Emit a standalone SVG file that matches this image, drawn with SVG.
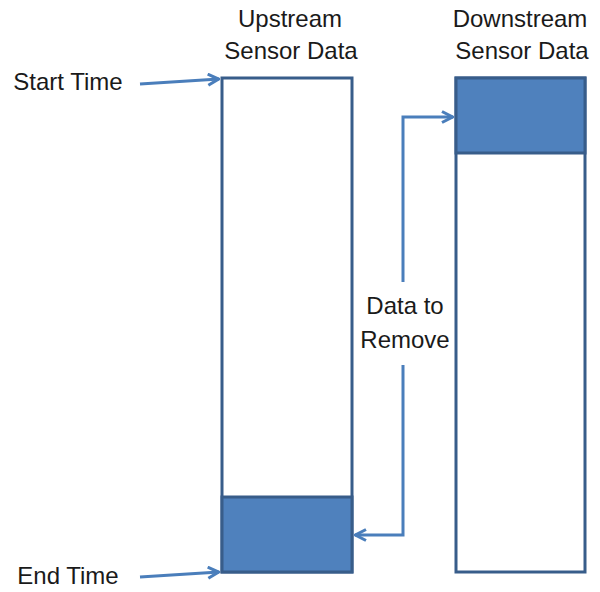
<svg xmlns="http://www.w3.org/2000/svg" width="600" height="592" viewBox="0 0 600 592">
<style>
text{font-family:"Liberation Sans",Arial,sans-serif;font-size:24px;fill:#1a1a1a;text-anchor:middle}
.box{fill:#fff;stroke:#385d8a;stroke-width:3}
.fill{fill:#4f81bd;stroke:#385d8a;stroke-width:3}
.con{fill:none;stroke:#4a7ebb;stroke-width:3}
</style>
<defs>
<marker id="ah" viewBox="0 0 14 14" refX="13" refY="7" markerWidth="14" markerHeight="14" markerUnits="userSpaceOnUse" orient="auto">
<path d="M2,1.5 L12.5,7 L2,12.5" fill="none" stroke="#4a7ebb" stroke-width="3"/>
</marker>
</defs>
<rect width="600" height="592" fill="#fff"/>
<g id="upstream">
<rect class="box" x="222" y="78" width="130" height="494"/>
<rect class="fill" x="222" y="497" width="130" height="75"/>
<text x="290" y="27">Upstream</text>
<text x="291" y="59">Sensor Data</text>
</g>
<g id="downstream">
<rect class="box" x="456" y="78" width="129" height="494"/>
<rect class="fill" x="456" y="78" width="129" height="75"/>
<text x="520" y="27">Downstream</text>
<text x="522" y="59">Sensor Data</text>
</g>
<g id="labels">
<text x="68" y="90">Start Time</text>
<text x="68" y="584">End Time</text>
<text x="405" y="314">Data to</text>
<text x="405" y="348">Remove</text>
</g>
<g id="connectors">
<path class="con" d="M140,84 L219,79" marker-end="url(#ah)"/>
<path class="con" d="M140,577 L219,572" marker-end="url(#ah)"/>
<path class="con" d="M403,282 L403,117 L453,117" marker-end="url(#ah)"/>
<path class="con" d="M403,365 L403,535 L355,535" marker-end="url(#ah)"/>
</g>
</svg>
